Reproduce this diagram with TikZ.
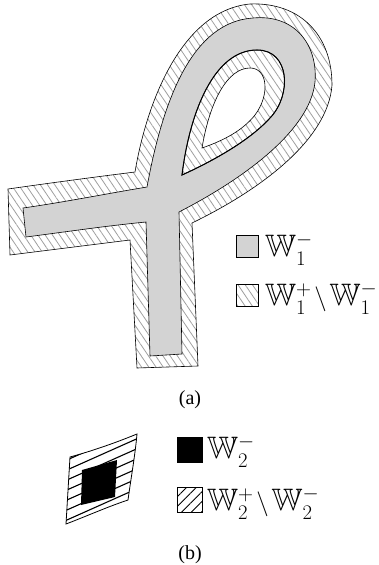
\documentclass[tikz,border=0pt]{standalone}
\usepackage{amssymb}
\usepackage{fontspec}
\setmainfont{Liberation Serif}
\usetikzlibrary{patterns.meta}
\definecolor{ribbongrey}{RGB}{211,211,211}

\begin{document}
\begin{tikzpicture}[
    x=1pt, y=-1pt,
    band/.style={pattern={Lines[angle=-56,distance=6pt,line width=0.8pt]}, pattern color=gray!75},
    stripes/.style={pattern={Lines[angle=45,distance=7pt,line width=0.9pt]}, pattern color=black},
    core/.style={fill=ribbongrey, even odd rule},
    legbox/.style={draw, inner sep=0pt, line width=0.6pt},
    legtext/.style={anchor=base west, inner sep=0pt, font=\fontsize{31}{36}\selectfont},
    caption/.style={font=\fontsize{20}{22}\selectfont}
]
\useasboundingbox (0,0) rectangle (378,565);
% (a) hatched band round the ribbon
\path[band, draw, line width=0.6pt, even odd rule]
  (8,189) .. controls (50,183) and (95,177) .. (135,172)
  .. controls (148,95) and (185,10) .. (250,4)
  .. controls (300,2) and (332,35) .. (332,85)
  .. controls (328,140) and (260,190) .. (192,223)
  -- (198,366) -- (137,368) -- (130,240)
  .. controls (90,245) and (50,250) .. (10,255) -- cycle
  (202,148) .. controls (210,100) and (228,68) .. (250,68)
  .. controls (268,68) and (270,95) .. (255,115)
  .. controls (243,130) and (225,140) .. (202,148) -- cycle;
% grey ribbon
\path[core, draw, line width=0.6pt]
  (23,208) .. controls (65,202) and (105,194) .. (147,187)
  .. controls (163,100) and (192,22) .. (253,18)
  .. controls (295,14) and (318,45) .. (315,82)
  .. controls (310,130) and (245,178) .. (179,212)
  -- (182,354) -- (150,356) -- (146,222)
  .. controls (105,226) and (65,232) .. (26,237) -- cycle
  (182,175) .. controls (190,110) and (215,50) .. (257,50)
  .. controls (290,50) and (292,95) .. (270,118)
  .. controls (250,140) and (215,160) .. (182,175) -- cycle;
\draw[line width=1pt]
  (182,175) .. controls (190,110) and (215,50) .. (257,50)
  .. controls (290,50) and (292,95) .. (270,118)
  .. controls (250,140) and (215,160) .. (182,175) -- cycle;
% legend (a)
\node[legbox, minimum size=22pt, fill=ribbongrey] (keyA) at (247,246) {};
\node[legtext] (txtA) at (265,256) {$\mathbb{W}_1^-$};
\node[legbox, minimum size=22pt, band] (keyB) at (247,295) {};
\node[legtext] (txtB) at (265,305) {$\mathbb{W}_1^+\mkern2mu{\setminus}\mkern2mu\mathbb{W}_1^-$};
\node[caption] (capA) at (190,400) {(a)};
% (b) skewed cell
\begin{scope}
  \clip (70,457) .. controls (92,451) and (115,443) .. (137,434)
    .. controls (135,456) and (131,478) .. (128,500)
    .. controls (107,507) and (87,516) .. (66,524) -- cycle;
  \foreach \c in {490,500,...,550}
    \draw[line width=1.1pt] (40,{\c-18}) -- (170,{\c-76});
\end{scope}
\draw[line width=0.8pt]
  (70,457) .. controls (92,451) and (115,443) .. (137,434)
  .. controls (135,456) and (131,478) .. (128,500)
  .. controls (107,507) and (87,516) .. (66,524) -- cycle;
\fill (82,470) -- (117,460) -- (115,497) -- (81,505) -- cycle;
% legend (b)
\node[legbox, minimum size=25pt, fill=black] (keyC) at (189.5,449.5) {};
\node[legtext] (txtC) at (207,458) {$\mathbb{W}_2^-$};
\node[legbox, minimum size=25pt, stripes] (keyD) at (189.5,499.5) {};
\node[legtext] (txtD) at (207,510) {$\mathbb{W}_2^+\mkern2mu{\setminus}\mkern2mu\mathbb{W}_2^-$};
\node[caption] (capB) at (190,555) {(b)};
\end{tikzpicture}
\end{document}
